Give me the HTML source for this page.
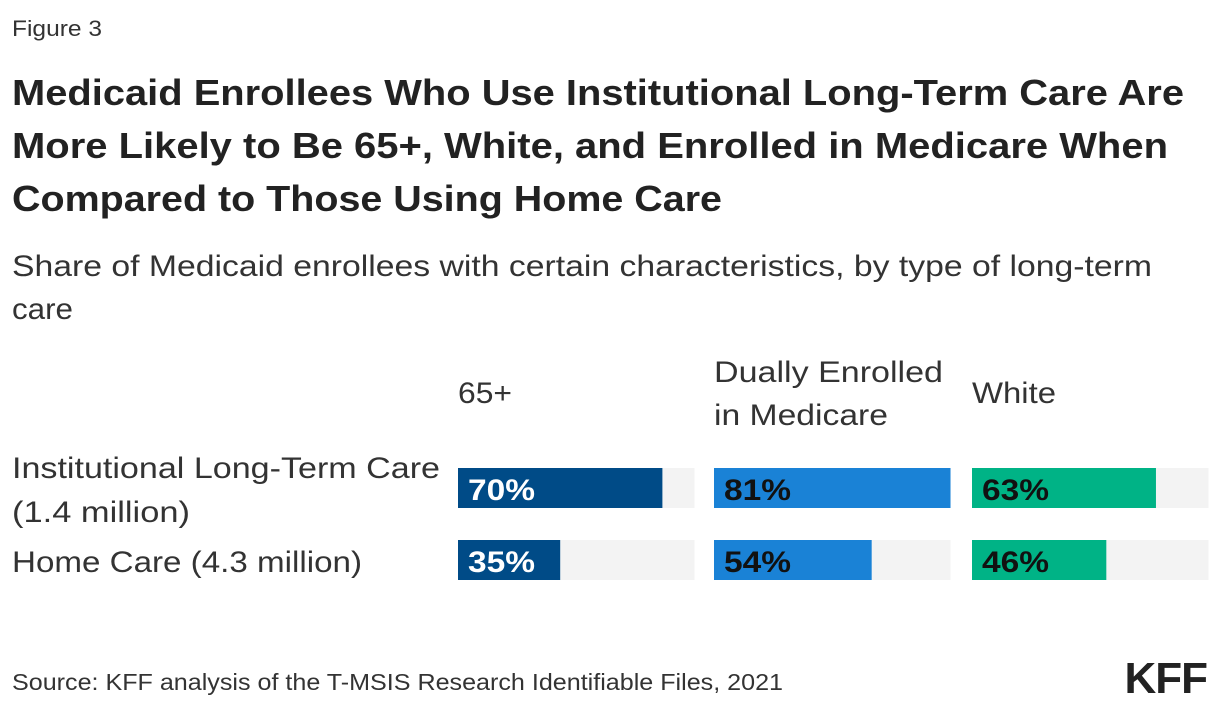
<!DOCTYPE html>
<html><head><meta charset="utf-8"><style>
body{margin:0;background:#fff;}
svg{display:block;font-family:"Liberation Sans",sans-serif;}
</style></head><body>
<svg width="1220" height="710">
<text x="12" y="36" font-size="22" fill="#333" textLength="90" lengthAdjust="spacingAndGlyphs">Figure 3</text>
<g font-size="36" font-weight="bold" fill="#222">
<text x="12" y="105" textLength="1172" lengthAdjust="spacingAndGlyphs">Medicaid Enrollees Who Use Institutional Long-Term Care Are</text>
<text x="12" y="158" textLength="1156" lengthAdjust="spacingAndGlyphs">More Likely to Be 65+, White, and Enrolled in Medicare When</text>
<text x="12" y="211" textLength="710" lengthAdjust="spacingAndGlyphs">Compared to Those Using Home Care</text>
</g>
<g font-size="30" fill="#333">
<text x="12" y="276" textLength="1140" lengthAdjust="spacingAndGlyphs">Share of Medicaid enrollees with certain characteristics, by type of long-term</text>
<text x="12" y="319" textLength="61" lengthAdjust="spacingAndGlyphs">care</text>
</g>
<g id="chart"></g>
<text x="12" y="690" font-size="23" fill="#333" textLength="771" lengthAdjust="spacingAndGlyphs">Source: KFF analysis of the T-MSIS Research Identifiable Files, 2021</text>
<text x="1207" y="693" font-size="44" font-weight="bold" fill="#222" text-anchor="end" letter-spacing="-1">KFF</text>
</svg>
<script>
const categories = ["Institutional Long-Term Care|(1.4 million)", "Home Care (4.3 million)"];
const columns = ["65+", "Dually Enrolled|in Medicare", "White"];
const values65 = [70, 35];
const valuesDual = [81, 54];
const valuesWhite = [63, 46];
const series = [values65, valuesDual, valuesWhite];
const colors = ["#004b87", "#1a82d6", "#00b386"];
const textColors = ["#fff", "#111", "#111"];
const rowLabelWidths = [[428, 178], [350]];
const colLabelWidths = [[54], [229, 174], [84]];
const NS = "http://www.w3.org/2000/svg";
const g = document.getElementById("chart");
const colX = [458, 714, 972];
const rowY = [468, 540];
const barH = 40;
const maxVal = Math.max(...series.flat());
const scale = v => v * 2.92;
function mk(tag, attrs, txt){const e=document.createElementNS(NS,tag);for(const k in attrs)e.setAttribute(k,attrs[k]);if(txt!==undefined)e.textContent=txt;g.appendChild(e);return e;}
categories.forEach((c,i)=>{
  const lines=c.split("|");
  lines.forEach((l,j)=>{
    const t=mk("text",{x:12,y:(lines.length>1?rowY[i]+10:rowY[i]+32)+j*44,"font-size":30,fill:"#333",textLength:rowLabelWidths[i][j],lengthAdjust:"spacingAndGlyphs"},l);
    
    
  });
});
columns.forEach((c,k)=>{
  const lines=c.split("|");
  lines.forEach((l,j)=>{
    const t=mk("text",{x:colX[k],y:(lines.length>1?382:403)+j*43,"font-size":30,fill:"#333",textLength:colLabelWidths[k][j],lengthAdjust:"spacingAndGlyphs"},l);
    
    
  });
  series[k].forEach((v,i)=>{
    const bg=mk("rect",{x:colX[k],y:rowY[i],width:scale(maxVal),height:barH,fill:"#f3f3f3"});
    
    
    const r=mk("rect",{x:colX[k],y:rowY[i],width:scale(v),height:barH,fill:colors[k]});
    
    
    const t=mk("text",{x:colX[k]+10,y:rowY[i]+32,"font-size":30,"font-weight":"bold",fill:textColors[k],textLength:67,lengthAdjust:"spacingAndGlyphs"},v+"%");
    
    
  });
});
</script>
</body></html>
